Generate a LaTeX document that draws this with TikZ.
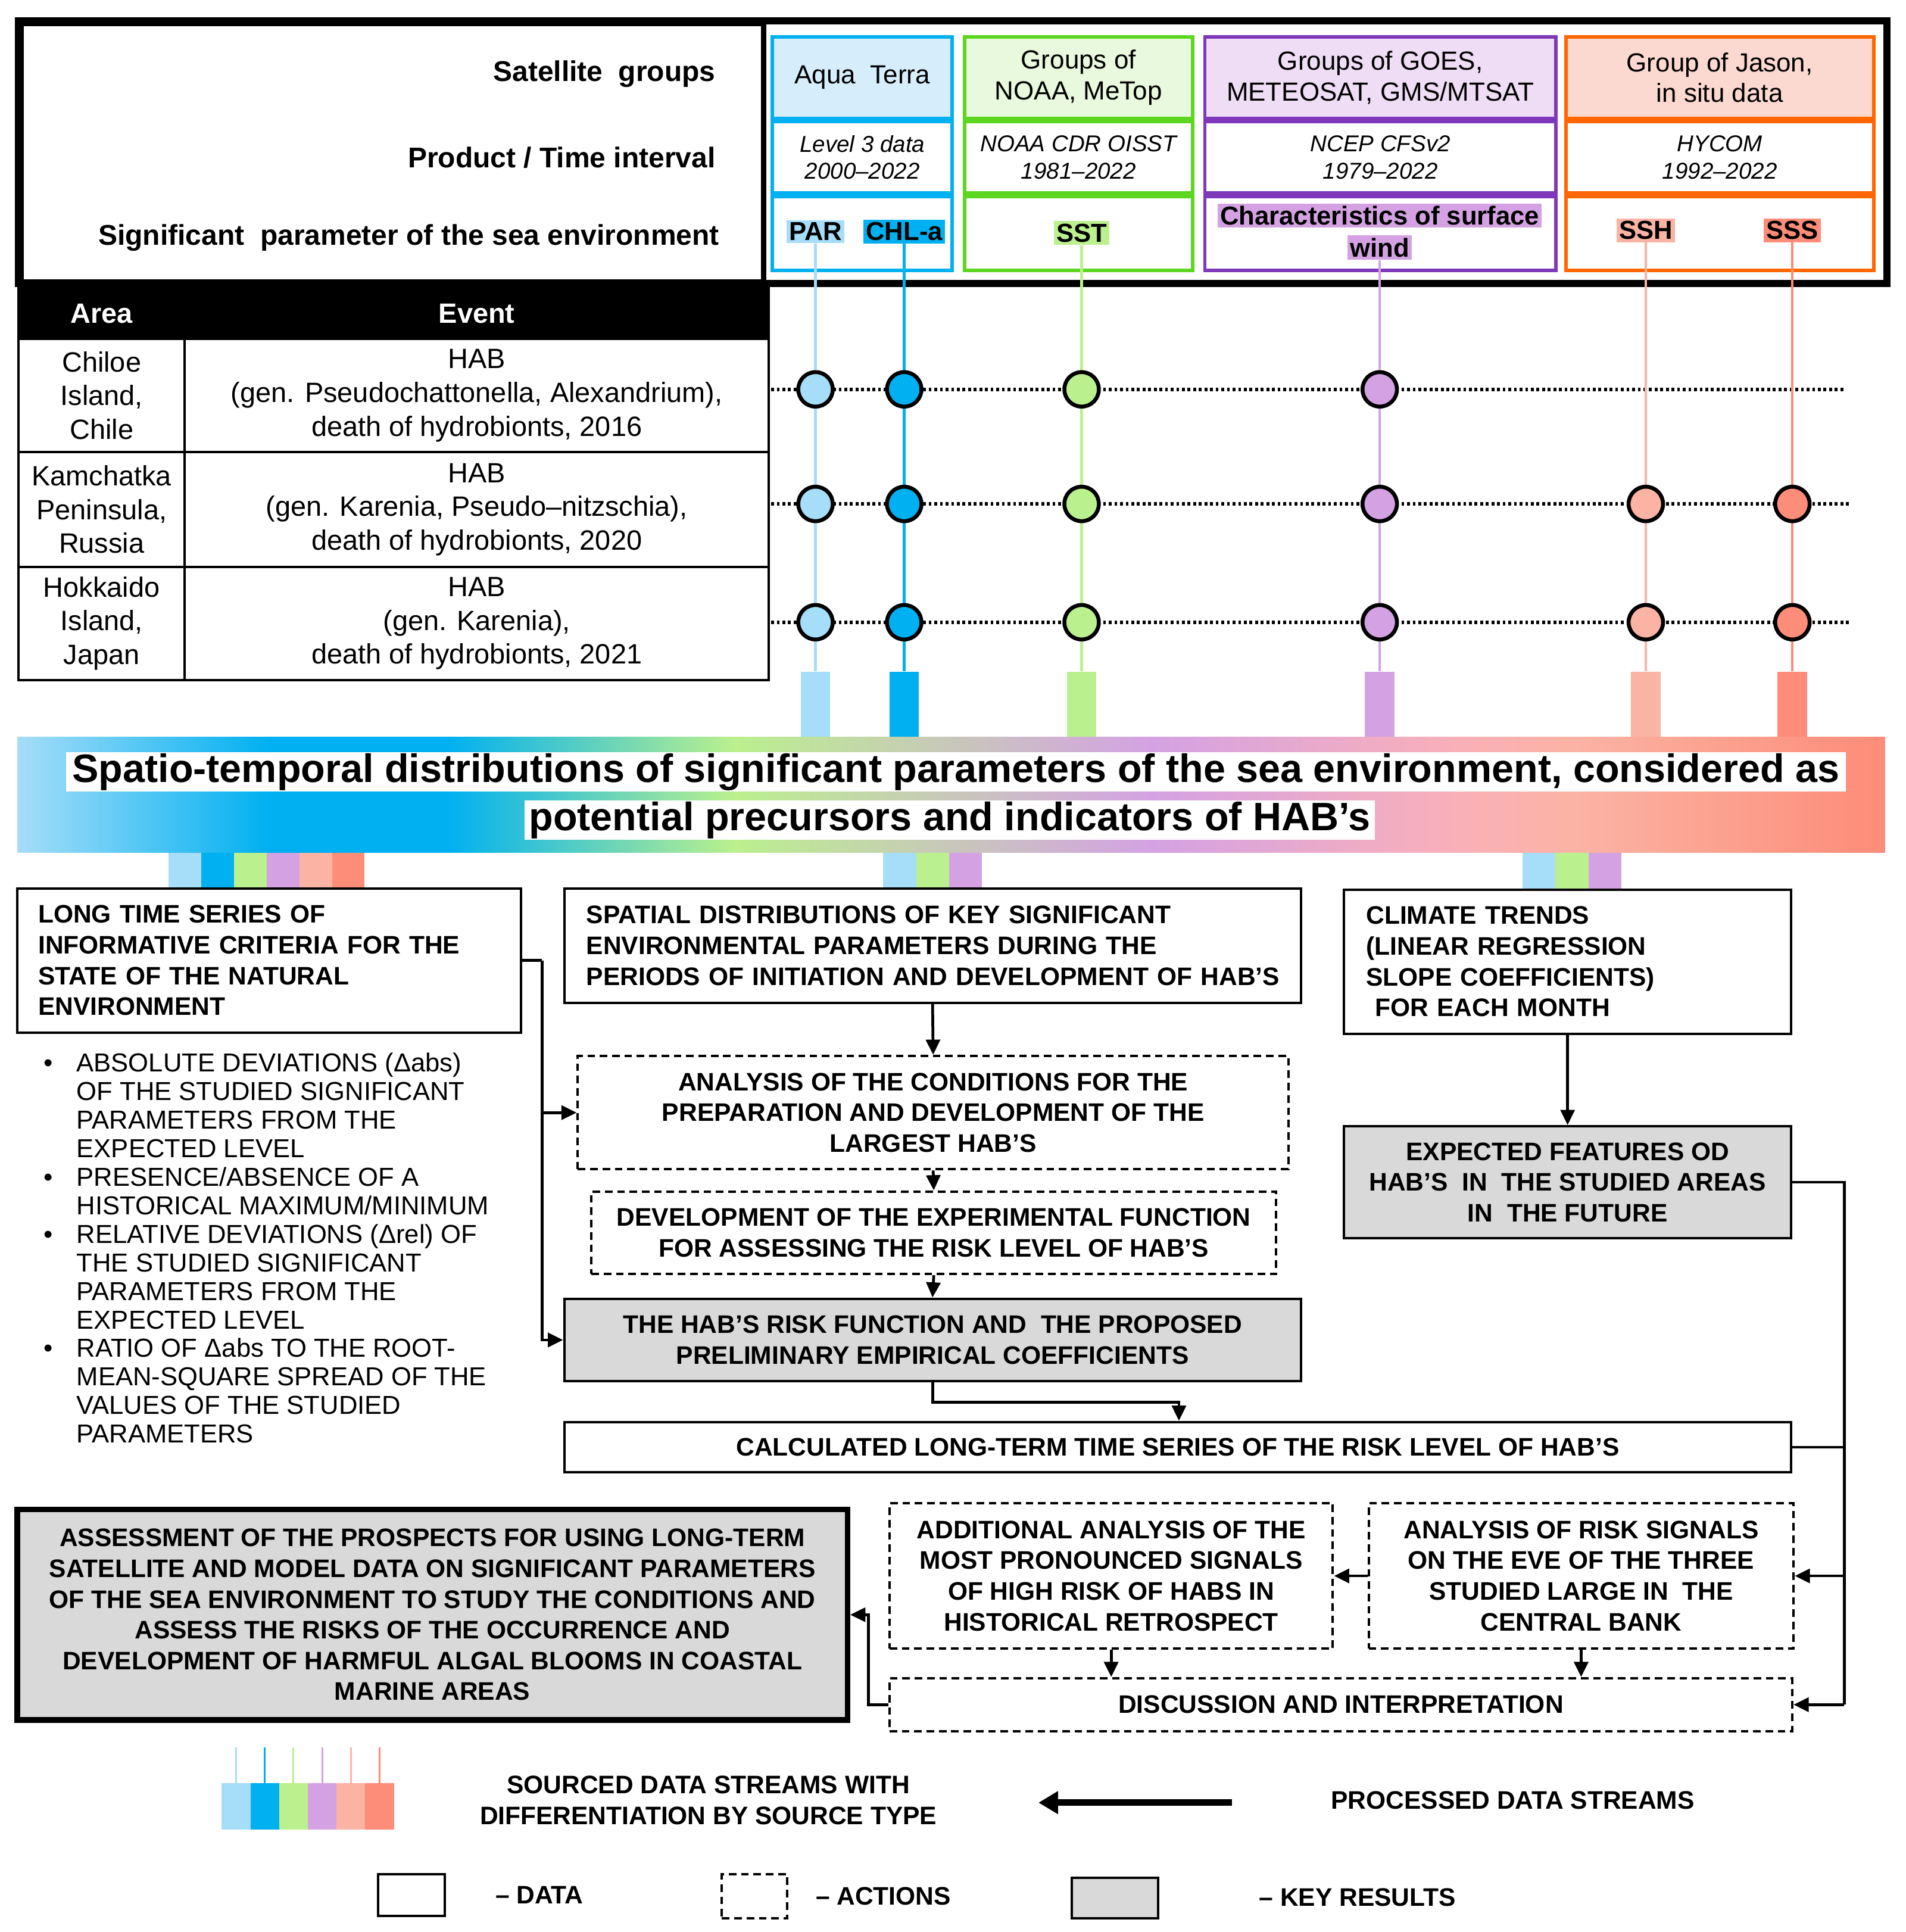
\documentclass[tikz,border=0pt]{standalone}
\usepackage{fontspec}
\setmainfont{Liberation Sans}
\usetikzlibrary{arrows.meta,positioning}
\definecolor{parC}{RGB}{166,221,248}
\definecolor{chlC}{RGB}{0,176,240}
\definecolor{sstC}{RGB}{187,240,142}
\definecolor{windC}{RGB}{212,162,227}
\definecolor{sshC}{RGB}{251,179,164}
\definecolor{sssC}{RGB}{253,140,120}
\definecolor{pinkC}{RGB}{250,176,184}
\definecolor{keyC}{RGB}{217,217,217}
\definecolor{aquaE}{RGB}{0,176,240}
\definecolor{aquaF}{RGB}{214,238,251}
\definecolor{noaaE}{RGB}{92,214,30}
\definecolor{noaaF}{RGB}{232,249,221}
\definecolor{goesE}{RGB}{128,56,186}
\definecolor{goesF}{RGB}{239,221,245}
\definecolor{jasonE}{RGB}{255,102,0}
\definecolor{jasonF}{RGB}{252,217,208}
\newcommand\boxfont{\fontsize{11.7}{14.2}\selectfont\bfseries}
\newcommand\parfont{\fontsize{12}{14.5}\selectfont\bfseries}
\newcommand\colfont{\fontsize{12.1}{14.2}\selectfont}
\newcommand\prodfont{\fontsize{10.6}{12.5}\selectfont\itshape}
\newcommand\tabfont{\fontsize{12.9}{15.6}\selectfont}
\newcommand\bulfont{\fontsize{12}{13.2}\selectfont}
\newcommand\banfont{\fontsize{18.3}{22}\selectfont\bfseries}
\newcommand\hdrfont{\fontsize{13.2}{15}\selectfont\bfseries}
\newcommand\bitem{\makebox[15.3pt][l]{\textbullet}}
\newcommand\bcont{\hspace*{15.3pt}}
\tikzset{
  hcell/.style={draw, line width=1.6pt, inner sep=0pt, align=center},
  tcell/.style={draw, line width=1.1pt, inner sep=0pt, align=center, font=\tabfont},
  databox/.style={draw=black, line width=1.1pt, fill=white, inner sep=0pt,
    align=center, font=\boxfont},
  actbox/.style={databox, dash pattern=on 3.5pt off 2.2pt},
  keybox/.style={databox, fill=keyC},
  flow/.style={line width=1.3pt, -{Triangle[length=7pt,width=6.5pt]}},
  link/.style={line width=1.3pt},
  rowline/.style={line width=1.7pt, dash pattern=on 1.3pt off 1.3pt},
  sdot/.style={circle, draw=black, line width=1.8pt, minimum size=0.56cm, inner sep=0pt},
  bar/.style={minimum width=0.48cm, minimum height=1.06cm, inner sep=0pt},
  hl/.style={inner sep=1.2pt, font=\parfont}
}
\begin{document}
\begin{tikzpicture}[x=0.02cm, y=-0.02cm]
  \useasboundingbox (0,0) rectangle (1547,1568);

  \node[draw, line width=3.4pt, minimum width=30.34cm, minimum height=4.26cm,
    inner sep=0pt] (frame) at (773.5,123.5) {};
  \node[draw, line width=2.6pt, minimum width=12.06cm, minimum height=4.2cm,
    inner sep=0pt] (hdr) at (318.5,124) {};
  \node[font=\hdrfont, anchor=east] (satlbl) at (587,60) {Satellite\ \ groups};
  \node[font=\hdrfont, anchor=east] (prodlbl) at (587,128) {Product / Time interval};
  \node[font=\hdrfont, anchor=east] (paramlbl) at (590,193)
    {Significant\ \ parameter of the sea environment};

  \node[hcell, draw=aquaE, fill=aquaF, minimum width=2.92cm, minimum height=1.32cm,
    font=\colfont] (aquaTop) at (700,63) {Aqua\ \ Terra};
  \node[hcell, draw=aquaE, minimum width=2.92cm, minimum height=1.16cm,
    font=\prodfont, below=0pt of aquaTop] (aquaMid) {Level 3 data\\2000–2022};
  \node[hcell, draw=aquaE, minimum width=2.92cm, minimum height=1.2cm,
    below=0pt of aquaMid] (aquaBot) {};

  \node[hcell, draw=noaaE, fill=noaaF, minimum width=3.7cm, minimum height=1.32cm,
    font=\colfont] (noaaTop) at (875.5,63) {Groups of\\NOAA, MeTop};
  \node[hcell, draw=noaaE, minimum width=3.7cm, minimum height=1.16cm,
    font=\prodfont, below=0pt of noaaTop] (noaaMid) {NOAA CDR OISST\\1981–2022};
  \node[hcell, draw=noaaE, minimum width=3.7cm, minimum height=1.2cm,
    below=0pt of noaaMid] (noaaBot) {};

  \node[hcell, draw=goesE, fill=goesF, minimum width=5.7cm, minimum height=1.32cm,
    font=\colfont] (goesTop) at (1120.5,63) {Groups of GOES,\\METEOSAT, GMS/MTSAT};
  \node[hcell, draw=goesE, minimum width=5.7cm, minimum height=1.16cm,
    font=\prodfont, below=0pt of goesTop] (goesMid) {NCEP CFSv2\\1979–2022};
  \node[hcell, draw=goesE, minimum width=5.7cm, minimum height=1.2cm,
    below=0pt of goesMid] (goesBot) {};

  \node[hcell, draw=jasonE, fill=jasonF, minimum width=5cm, minimum height=1.32cm,
    font=\colfont] (jasonTop) at (1396,63) {Group of Jason,\\in situ data};
  \node[hcell, draw=jasonE, minimum width=5cm, minimum height=1.16cm,
    font=\prodfont, below=0pt of jasonTop] (jasonMid) {HYCOM\\1992–2022};
  \node[hcell, draw=jasonE, minimum width=5cm, minimum height=1.2cm,
    below=0pt of jasonMid] (jasonBot) {};

  \node[hl, fill=parC] (par) at (662,188) {PAR};
  \node[hl, fill=chlC] (chl) at (734,188) {CHL-a};
  \node[hl, fill=sstC] (sst) at (878,189) {SST};
  \node[hl, fill=windC] (windtop) at (1120,175) {Characteristics of surface};
  \node[hl, fill=windC] (wind) at (1120,201) {wind};
  \node[hl, fill=sshC] (ssh) at (1336,187) {SSH};
  \node[hl, fill=sssC] (sss) at (1455,187) {SSS};

  \node[tcell, fill=black, text=white, font=\tabfont\bfseries, minimum width=2.7cm,
    minimum height=0.82cm] (areaH) at (82.5,254.5) {Area};
  \node[tcell, fill=black, text=white, font=\tabfont\bfseries, minimum width=9.48cm,
    minimum height=0.82cm] (eventH) at (387,254.5) {Event};
  \node[tcell, minimum width=2.7cm, minimum height=1.84cm] (area1) at (82.5,321)
    {Chiloe\\Island,\\Chile};
  \node[tcell, minimum width=9.48cm, minimum height=1.84cm] (ev1) at (387,321)
    {HAB\\(gen. Pseudochattonella, Alexandrium),\\death of hydrobionts, 2016};
  \node[tcell, minimum width=2.7cm, minimum height=1.86cm] (area2) at (82.5,413.5)
    {Kamchatka\\Peninsula,\\Russia};
  \node[tcell, minimum width=9.48cm, minimum height=1.86cm] (ev2) at (387,413.5)
    {HAB\\(gen. Karenia, Pseudo–nitzschia),\\death of hydrobionts, 2020};
  \node[tcell, minimum width=2.7cm, minimum height=1.84cm] (area3) at (82.5,506)
    {Hokkaido\\Island,\\Japan};
  \node[tcell, minimum width=9.48cm, minimum height=1.84cm] (ev3) at (387,506)
    {HAB\\(gen. Karenia),\\death of hydrobionts, 2021};

  \coordinate (r1s) at (626,316);
  \coordinate (r1e) at (1497,316);
  \coordinate (r2s) at (626,409);
  \coordinate (r2e) at (1502,409);
  \coordinate (r3s) at (626,505);
  \coordinate (r3e) at (1502,505);
  \draw[rowline] (r1s) -- (r1e);
  \draw[rowline] (r2s) -- (r2e);
  \draw[rowline] (r3s) -- (r3e);

  \foreach \nm/\xx/\cc in {par/662/parC, chl/734/chlC, sst/878/sstC,
      wind/1120/windC, ssh/1336/sshC, sss/1455/sssC}{
    \node[bar, fill=\cc] (bar\nm) at (\xx,571.5) {};
    \draw[line width=1.2pt, \cc] (\nm.south) -- (bar\nm.north);
  }
  \foreach \nm/\cc in {par/parC, chl/chlC, sst/sstC, wind/windC}
    \node[sdot, fill=\cc] (\nm1) at (bar\nm |- r1s) {};
  \foreach \nm/\cc in {par/parC, chl/chlC, sst/sstC, wind/windC, ssh/sshC, sss/sssC}{
    \node[sdot, fill=\cc] (\nm2) at (bar\nm |- r2s) {};
    \node[sdot, fill=\cc] (\nm3) at (bar\nm |- r3s) {};
  }

  \shade[left color=parC, right color=chlC] (14,598) rectangle (219,692);
  \fill[chlC] (218,598) rectangle (364,692);
  \shade[left color=chlC, right color=sstC] (363,598) rectangle (596,692);
  \shade[left color=sstC, right color=windC] (595,598) rectangle (934,692);
  \shade[left color=windC, right color=pinkC] (933,598) rectangle (1186,692);
  \shade[left color=pinkC, right color=sshC] (1185,598) rectangle (1282,692);
  \shade[left color=sshC, right color=sssC] (1281,598) rectangle (1530,692);
  \node[fill=white, font=\banfont, inner xsep=3pt, inner ysep=0.5pt] (ban1) at (776,626.5)
    {Spatio-temporal distributions of significant parameters of the sea environment, considered as};
  \node[fill=white, font=\banfont, inner xsep=2pt, inner ysep=0.5pt] (ban2) at (771,665.5)
    {potential precursors and indicators of HAB’s};

  \foreach \cc [count=\i] in {parC,chlC,sstC,windC,sshC,sssC}
    \fill[\cc] (110.5+26.5*\i,692) rectangle ++(26.5,29);
  \foreach \cc [count=\i] in {parC,sstC,windC}{
    \fill[\cc] (690.3+26.7*\i,692) rectangle ++(26.7,29);
    \fill[\cc] (1209.3+26.7*\i,692) rectangle ++(26.7,29);
  }

  \node[databox, minimum width=8.18cm, minimum height=2.34cm, text width=7.5cm,
    align=left, inner xsep=0.34cm] (b1) at (218.5,779.5)
    {LONG TIME SERIES OF\\INFORMATIVE CRITERIA FOR THE\\STATE OF THE NATURAL\\ENVIRONMENT};
  \node[font=\bulfont, align=left, anchor=north west, inner sep=0pt] (bullets) at (35,854)
    {\bitem ABSOLUTE DEVIATIONS (Δabs)\\\bcont OF THE STUDIED SIGNIFICANT\\
     \bcont PARAMETERS FROM THE\\\bcont EXPECTED LEVEL\\
     \bitem PRESENCE/ABSENCE OF A\\\bcont HISTORICAL MAXIMUM/MINIMUM\\
     \bitem RELATIVE DEVIATIONS (Δrel) OF\\\bcont THE STUDIED SIGNIFICANT\\
     \bcont PARAMETERS FROM THE\\\bcont EXPECTED LEVEL\\
     \bitem RATIO OF Δabs TO THE ROOT-\\\bcont MEAN-SQUARE SPREAD OF THE\\
     \bcont VALUES OF THE STUDIED\\\bcont PARAMETERS};
  \node[databox, minimum width=11.96cm, minimum height=1.86cm, text width=11.24cm,
    align=left, inner xsep=0.36cm] (b2) at (757,767.5)
    {SPATIAL DISTRIBUTIONS OF KEY SIGNIFICANT\\ENVIRONMENTAL PARAMETERS DURING THE\\
     \mbox{PERIODS OF INITIATION AND DEVELOPMENT OF HAB’S}};
  \node[databox, minimum width=7.26cm, minimum height=2.34cm, text width=6.54cm,
    align=left, inner xsep=0.36cm] (b3) at (1272.5,780.5)
    {CLIMATE TRENDS\\(LINEAR REGRESSION\\SLOPE COEFFICIENTS)\\\hspace*{0.35em}FOR EACH MONTH};
  \node[actbox, minimum width=11.54cm, minimum height=1.84cm] (a1) at (757.5,903)
    {ANALYSIS OF THE CONDITIONS FOR THE\\PREPARATION AND DEVELOPMENT OF THE\\LARGEST HAB’S};
  \node[actbox, minimum width=11.12cm, minimum height=1.34cm] (a2) at (758,1000.5)
    {DEVELOPMENT OF THE EXPERIMENTAL FUNCTION\\FOR ASSESSING THE RISK LEVEL OF HAB’S};
  \node[keybox, minimum width=11.96cm, minimum height=1.34cm] (k1) at (757,1087.5)
    {THE HAB’S RISK FUNCTION AND\ \ THE PROPOSED\\PRELIMINARY EMPIRICAL COEFFICIENTS};
  \node[keybox, minimum width=7.26cm, minimum height=1.82cm] (k2) at (1272.5,959.5)
    {EXPECTED FEATURES OD\\HAB’S\ \ IN\ \ THE STUDIED AREAS\\IN\ \ THE FUTURE};
  \node[databox, minimum width=19.92cm, minimum height=0.82cm] (b4) at (956,1174.5)
    {CALCULATED LONG-TERM TIME SERIES OF THE RISK LEVEL OF HAB’S};
  \node[keybox, line width=2.6pt, minimum width=13.48cm, minimum height=3.42cm] (k3)
    at (351,1310.5)
    {ASSESSMENT OF THE PROSPECTS FOR USING LONG-TERM\\
     SATELLITE AND MODEL DATA ON SIGNIFICANT PARAMETERS\\
     OF THE SEA ENVIRONMENT TO STUDY THE CONDITIONS AND\\
     ASSESS THE RISKS OF THE OCCURRENCE AND\\
     DEVELOPMENT OF HARMFUL ALGAL BLOOMS IN COASTAL\\MARINE AREAS};
  \node[actbox, minimum width=7.2cm, minimum height=2.36cm] (a3) at (902,1279)
    {ADDITIONAL ANALYSIS OF THE\\MOST PRONOUNCED SIGNALS\\OF HIGH RISK OF HABS IN\\
     HISTORICAL RETROSPECT};
  \node[actbox, minimum width=6.9cm, minimum height=2.36cm] (a4) at (1283.5,1279)
    {ANALYSIS OF RISK SIGNALS\\ON THE EVE OF THE THREE\\STUDIED LARGE IN\ \ THE\\CENTRAL BANK};
  \node[actbox, minimum width=14.66cm, minimum height=0.86cm] (a5) at (1088.5,1383.5)
    {DISCUSSION AND INTERPRETATION};

  \coordinate (busL) at (440,779.5);
  \draw[link] (b1.east) -- (busL);
  \draw[flow] (busL) |- (k1.west);
  \draw[flow] (busL |- a1.west) -- (a1.west);
  \draw[flow] (b2.south) -- (a1.north);
  \draw[flow] (a1.south) -- (a2.north);
  \draw[flow] (a2.south) -- (k1.north);
  \coordinate (kb) at (957,1138);
  \draw[flow] (k1.south) |- (kb) -- (kb |- b4.north);
  \draw[flow] (b3.south) -- (k2.north);
  \coordinate (busR) at (1497,959.5);
  \draw[link] (k2.east) -- (busR) -- (busR |- a5.east);
  \draw[link] (b4.east) -- (b4.east -| busR);
  \draw[flow] (busR |- a4.east) -- (a4.east);
  \draw[flow] (busR |- a5.east) -- (a5.east);
  \draw[flow] (a4.west) -- (a3.east);
  \draw[flow] (a3.south) -- (a3.south |- a5.north);
  \draw[flow] (a4.south) -- (a4.south |- a5.north);
  \draw[flow] (a5.west) -- ++(-16,0) |- (k3.east);

  \foreach \cc [count=\i] in {parC,chlC,sstC,windC,sshC,sssC}{
    \fill[\cc] (156.7+23.3*\i,1447) rectangle ++(23.3,38);
    \draw[\cc, line width=0.8pt] (168.35+23.3*\i,1418) -- ++(0,29);
  }
  \node[font=\boxfont, align=center] (lgSrc) at (575,1461)
    {SOURCED DATA STREAMS WITH\\DIFFERENTIATION BY SOURCE TYPE};
  \node[font=\boxfont] (lgProc) at (1228,1461) {PROCESSED DATA STREAMS};
  \coordinate (lgArrS) at (1000,1463);
  \coordinate (lgArrE) at (843,1463);
  \draw[line width=3pt, -{Triangle[length=9pt,width=10pt]}] (lgArrS) -- (lgArrE);
  \node[databox, minimum width=1.08cm, minimum height=0.68cm] (lgData) at (334,1538) {};
  \node[font=\boxfont, anchor=west] (lgDataT) at (396,1538) {– DATA};
  \node[actbox, minimum width=1.06cm, minimum height=0.72cm] (lgAct) at (612.5,1539) {};
  \node[font=\boxfont, anchor=west] (lgActT) at (656,1539) {– ACTIONS};
  \node[keybox, minimum width=1.4cm, minimum height=0.66cm] (lgKey) at (905,1540.5) {};
  \node[font=\boxfont, anchor=west] (lgKeyT) at (1016,1540) {– KEY RESULTS};
\end{tikzpicture}
\end{document}
